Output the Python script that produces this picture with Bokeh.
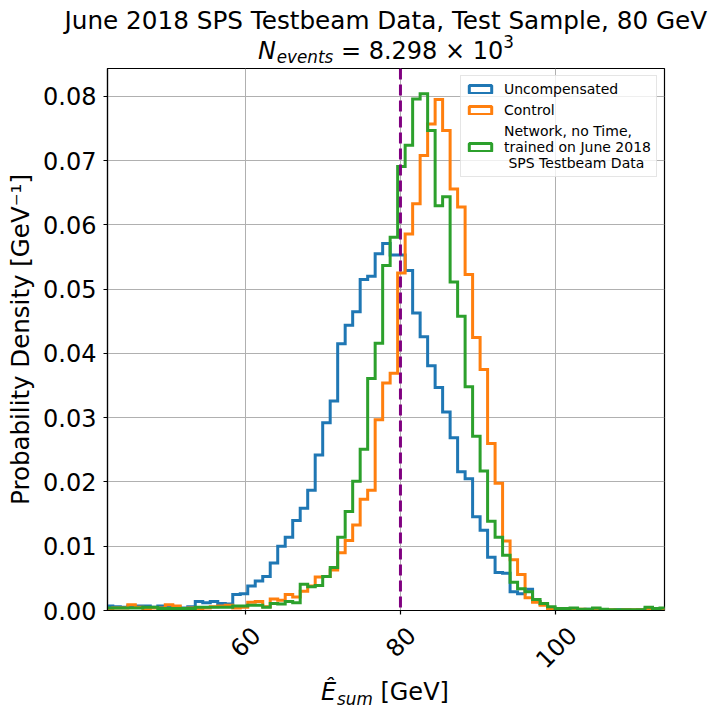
import numpy as np
from bokeh.plotting import figure
from bokeh.layouts import column
from bokeh.models import (Range1d, FixedTicker, PrintfTickFormatter, Span, Legend,
                          LegendItem, Label, CustomJSTickFormatter)
from bokeh.core.properties import value
from bokeh.embed import file_html
from bokeh.resources import INLINE

# ---------------- data ----------------
BIN_LO = 42.02          # first bin edge [GeV]
BIN_W = 0.9646          # bin width [GeV]
N_BINS = 75
BEAM_ENERGY = 80

uncompensated = [
    0.0007, 0.0006, 0.0005, 0.0007, 0.0007, 0.0007, 0.0005, 0.0007, 0.0007, 0.0005,
    0.0004, 0.0006, 0.0014, 0.0012, 0.0014, 0.0011, 0.0010, 0.0025, 0.0026, 0.0038,
    0.0046, 0.0053, 0.0074, 0.0100, 0.0114, 0.0140, 0.0159, 0.0187, 0.0242, 0.0292,
    0.0326, 0.0415, 0.0444, 0.0465, 0.0515, 0.0520, 0.0555, 0.0571, 0.0553, 0.0553,
    0.0529, 0.0463, 0.0426, 0.0381, 0.0347, 0.0309, 0.0269, 0.0216, 0.0205, 0.0146,
    0.0125, 0.0083, 0.0059, 0.0058, 0.0029, 0.0026, 0.0033, 0.0014, 0.0010, 0.0004,
    0.0002, 0.0002, 0.0003, 0.0001, 0.0002, 0.0002, 0.0001, 0.0000, 0.0001, 0.0001,
    0.0000, 0.0001, 0.0002, 0.0001, 0.0002,
]
control = [
    0.0003, 0.0004, 0.0004, 0.0009, 0.0005, 0.0003, 0.0004, 0.0004, 0.0009, 0.0007,
    0.0003, 0.0004, 0.0003, 0.0004, 0.0006, 0.0007, 0.0008, 0.0004, 0.0005, 0.0013,
    0.0014, 0.0006, 0.0018, 0.0016, 0.0025, 0.0021, 0.0030, 0.0038, 0.0052, 0.0053,
    0.0063, 0.0090, 0.0109, 0.0133, 0.0173, 0.0187, 0.0297, 0.0354, 0.0369, 0.0525,
    0.0586, 0.0633, 0.0708, 0.0757, 0.0795, 0.0747, 0.0656, 0.0628, 0.0523, 0.0425,
    0.0375, 0.0260, 0.0198, 0.0108, 0.0079, 0.0056, 0.0020, 0.0013, 0.0008, 0.0003,
    0.0002, 0.0002, 0.0001, 0.0002, 0.0001, 0.0001, 0.0001, 0.0001, 0.0000, 0.0001,
    0.0001, 0.0001, 0.0002, 0.0003, 0.0002,
]
network = [
    0.0004, 0.0004, 0.0004, 0.0004, 0.0004, 0.0005, 0.0005, 0.0003, 0.0003, 0.0003,
    0.0003, 0.0003, 0.0005, 0.0005, 0.0005, 0.0005, 0.0005, 0.0007, 0.0007, 0.0008,
    0.0008, 0.0005, 0.0011, 0.0010, 0.0014, 0.0012, 0.0041, 0.0037, 0.0039, 0.0053,
    0.0067, 0.0114, 0.0154, 0.0201, 0.0251, 0.0361, 0.0416, 0.0537, 0.0581, 0.0691,
    0.0724, 0.0796, 0.0804, 0.0747, 0.0630, 0.0644, 0.0511, 0.0458, 0.0348, 0.0271,
    0.0217, 0.0139, 0.0114, 0.0086, 0.0044, 0.0034, 0.0029, 0.0017, 0.0011, 0.0006,
    0.0003, 0.0003, 0.0004, 0.0002, 0.0002, 0.0004, 0.0002, 0.0001, 0.0001, 0.0001,
    0.0001, 0.0001, 0.0005, 0.0003, 0.0004,
]

series_labels = [
    "Uncompensated",
    "Control",
    "Network, no Time,\ntrained on June 2018\n SPS Testbeam Data",
]
series_colors = ["#1f77b4", "#ff7f0e", "#2ca02c"]

X_RANGE = (42.30, 113.98)
Y_RANGE = (0.0, 0.08434)
X_TICKS = [60, 80, 100]
X_TICK_LABELS = ["60", "80", "100"]
Y_TICKS = [0.00, 0.01, 0.02, 0.03, 0.04, 0.05, 0.06, 0.07, 0.08]

TITLE = "June 2018 SPS Testbeam Data, Test Sample, 80 GeV"
N_EVENTS_MANTISSA = "8.298"
N_EVENTS_EXP = "3"

FONT = "DejaVu Sans"
W = 722
FRAME_L, FRAME_R = 107, 58          # left / right borders (px)
HEAD_H = 67
MAIN_TOP, FRAME_H, MAIN_BOT = 1, 542, 14
MAIN_H = MAIN_TOP + FRAME_H + MAIN_BOT
FOOT_OVERLAP = 7                    # footer (transparent) slides up over the main border
FOOT_TOP_Y = HEAD_H + MAIN_H - FOOT_OVERLAP
FOOT_H = 710 - FOOT_TOP_Y
FRAME_BOTTOM_Y = HEAD_H + MAIN_TOP + FRAME_H    # page y of the x axis
PAGE_BOTTOM_Y = FOOT_TOP_Y + FOOT_H             # page y of the footer bottom
BASE_FIX = 8.0 / 24.0               # baseline correction per px of font size


def blank(height, x_range, y_range, left=0, right=0):
    f = figure(width=W, height=height, x_range=x_range, y_range=y_range,
               output_backend="svg", toolbar_location=None,
               x_axis_location=None, y_axis_location=None,
               min_border_left=left, min_border_right=right,
               min_border_top=0, min_border_bottom=0)
    f.outline_line_color = None
    f.background_fill_color = "white"
    f.border_fill_color = "white"
    f.xgrid.visible = False
    f.ygrid.visible = False
    return f


def lab(fig, x, y, text, size=24.0, style="normal", align="left"):
    fig.add_layout(Label(x=x, y=y + BASE_FIX * size, x_units="screen", y_units="screen",
                         text=text, text_font=FONT, text_font_size=f"{size}px",
                         text_font_style=style, text_align=align,
                         text_baseline="alphabetic", text_color="black"))


# ---------------- main figure ----------------
p = figure(width=W, height=MAIN_H,
           x_range=Range1d(*X_RANGE), y_range=Range1d(*Y_RANGE),
           output_backend="svg", toolbar_location=None,
           min_border_left=FRAME_L, min_border_right=FRAME_R,
           min_border_top=MAIN_TOP, min_border_bottom=MAIN_BOT)
p.background_fill_color = "white"
p.border_fill_color = "white"
p.outline_line_color = "black"
p.outline_line_width = 1.2

edges = BIN_LO + BIN_W * np.arange(N_BINS + 1)

legend_items = []
for vals, lab_txt, col in zip([uncompensated, control, network], series_labels, series_colors):
    v = np.asarray(vals)
    xs = np.repeat(edges, 2)
    ys = np.concatenate([[0.0], np.repeat(v, 2), [0.0]])
    p.line(xs, ys, line_color=col, line_width=3, line_join="miter")
    # legend proxy: zero-size outline box at the first bin edge (outside the view)
    proxy = p.quad(left=[edges[0]], right=[edges[0]], top=[0.0], bottom=[0.0],
                   fill_alpha=0, line_color=col, line_width=3)
    legend_items.append(LegendItem(label=lab_txt, renderers=[proxy]))

p.add_layout(Span(location=BEAM_ENERGY, dimension="height", line_color="#800080",
                  line_width=3, line_dash="11 5"))

for ax in (p.xaxis[0], p.yaxis[0]):
    ax.axis_line_color = "black"
    ax.axis_line_width = 1.2
    ax.major_tick_line_color = "black"
    ax.major_tick_line_width = 1.2
    ax.major_tick_out = 4
    ax.major_tick_in = 0
    ax.minor_tick_line_color = None
    ax.major_label_text_font = FONT
    ax.major_label_text_color = "black"

p.xaxis.ticker = FixedTicker(ticks=X_TICKS)
p.xaxis.formatter = CustomJSTickFormatter(code="return ''")
p.xaxis.major_label_text_font_size = "1px"
p.xaxis.major_label_standoff = 0

p.yaxis.ticker = FixedTicker(ticks=Y_TICKS)
p.yaxis.formatter = PrintfTickFormatter(format="%.2f")
p.yaxis.major_label_text_font_size = "24px"
p.yaxis.major_label_standoff = 7
p.yaxis.axis_label = "Probability Density [GeV\u207b\u00b9]"
p.yaxis.axis_label_text_font = FONT
p.yaxis.axis_label_text_font_size = "24.5px"
p.yaxis.axis_label_text_font_style = "normal"
p.yaxis.axis_label_text_color = "black"
p.yaxis.axis_label_standoff = 5

p.xgrid.grid_line_color = "#b0b0b0"
p.ygrid.grid_line_color = "#b0b0b0"
p.xgrid.grid_line_width = 1
p.ygrid.grid_line_width = 1

legend = Legend(items=legend_items, location="top_right")
legend.label_text_font = FONT
legend.label_text_font_size = "14px"
legend.label_text_color = "black"
legend.label_text_line_height = 1.2
legend.glyph_width = 28
legend.glyph_height = 10
legend.label_standoff = 10
legend.label_height = 16
legend.spacing = 5
legend.padding = 5
legend.margin = 7
legend.border_line_color = "#cccccc"
legend.border_line_width = 1
legend.background_fill_alpha = 0.8
p.add_layout(legend)

# ---------------- header: two title lines ----------------
head = blank(HEAD_H, Range1d(0, W), Range1d(0, HEAD_H))
head.frame_align = False
lab(head, 385.3, HEAD_H - 28, TITLE, size=24.7, align="center")
lab(head, 257.5, HEAD_H - 58, "N", style="italic")
lab(head, 276.2, HEAD_H - 62, "events", size=16.8, style="italic")
lab(head, 340.4, HEAD_H - 58, "= " + N_EVENTS_MANTISSA + " \u00d7 10")
lab(head, 502.8, HEAD_H - 47, N_EVENTS_EXP, size=16.8)

# ---------------- footer: rotated x tick labels + x label ----------------
foot = blank(FOOT_H, p.x_range, Range1d(0, FOOT_H), left=FRAME_L, right=FRAME_R)
foot.background_fill_alpha = 0
foot.border_fill_alpha = 0
foot.margin = (-FOOT_OVERLAP, 0, 0, 0)
# rotated (45 deg) tick labels, centred under their ticks like matplotlib
em, h_txt = 0.636 * 24, 27.9
tick_pad = 10.5                   # tick length + pad below the axis line
ty = [PAGE_BOTTOM_Y - (FRAME_BOTTOM_Y + tick_pad + 0.354 * (len(s) * em + h_txt))
      for s in X_TICK_LABELS]
foot.text(x=X_TICKS, y=ty, text=X_TICK_LABELS, angle=np.pi / 4,
          text_align="center", text_baseline="middle",
          text_font=value(FONT), text_font_size=value("24px"), text_color="black")

lab(foot, 320.5 - FRAME_L, PAGE_BOTTOM_Y - 699, "\u00ca", style="italic")
lab(foot, 336.5 - FRAME_L, PAGE_BOTTOM_Y - 704, "sum", size=16.8, style="italic")
lab(foot, 379.9 - FRAME_L, PAGE_BOTTOM_Y - 699, "[GeV]")

layout = column(head, p, foot, spacing=0)
open("out.html", "w").write(file_html(layout, INLINE))
